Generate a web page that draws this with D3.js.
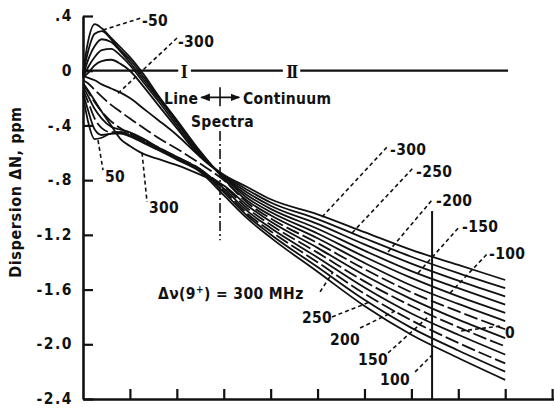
<!DOCTYPE html>
<html><head><meta charset="utf-8">
<script src="https://cdn.jsdelivr.net/npm/d3@7"></script>
<style>
body{margin:0;background:#fff}
svg text{font-family:"Liberation Sans Narrow","DejaVu Sans Condensed","Arial Narrow",sans-serif;font-weight:bold;fill:#111}
</style></head><body>
<svg id="c" width="554" height="408"></svg>
<script>
// ---- data (x in axis tick units, y in ppm) ----
const xSamples = [0, 0.1, 0.25, 0.4, 0.6, 0.8, 1.0, 1.3, 1.6, 2.0, 2.5, 3.0, 3.5, 4, 5, 6, 7, 8, 9];
const deltaNu = [-300, -250, -200, -150, -100, -50, 0, 300, 250, 200, 150, 100, 50];
const curveM300 = [-0.04,-0.05,-0.07,-0.10,-0.13,-0.16,-0.20,-0.28,-0.36,-0.47,-0.63,-0.76,-0.85,-0.94,-1.05,-1.18,-1.31,-1.42,-1.53];
const curveM250 = [-0.05,-0.02,0.04,0.07,0.08,0.05,0.00,-0.12,-0.25,-0.42,-0.63,-0.765,-0.87,-0.963,-1.085,-1.225,-1.36,-1.48,-1.59];
const curveM200 = [-0.05,0.02,0.10,0.15,0.16,0.11,0.04,-0.09,-0.22,-0.40,-0.62,-0.77,-0.89,-0.987,-1.12,-1.27,-1.41,-1.535,-1.65];
const curveM150 = [-0.04,0.07,0.18,0.23,0.21,0.14,0.06,-0.07,-0.20,-0.38,-0.61,-0.775,-0.91,-1.01,-1.155,-1.315,-1.465,-1.59,-1.71];
const curveM100 = [-0.03,0.13,0.27,0.29,0.23,0.15,0.08,-0.05,-0.19,-0.37,-0.60,-0.78,-0.93,-1.033,-1.19,-1.36,-1.515,-1.65,-1.77];
const curveM50  = [-0.02,0.20,0.34,0.31,0.24,0.17,0.10,-0.03,-0.18,-0.36,-0.59,-0.79,-0.95,-1.057,-1.225,-1.405,-1.57,-1.705,-1.83];
const curve0    = [-0.07,-0.09,-0.14,-0.19,-0.25,-0.30,-0.35,-0.42,-0.49,-0.57,-0.68,-0.80,-0.965,-1.08,-1.26,-1.45,-1.62,-1.76,-1.89];
const curveP300 = [-0.09,-0.14,-0.22,-0.30,-0.40,-0.50,-0.55,-0.61,-0.645,-0.69,-0.76,-0.84,-0.985,-1.103,-1.295,-1.495,-1.67,-1.82,-1.955];
const curveP250 = [-0.10,-0.15,-0.23,-0.30,-0.37,-0.42,-0.46,-0.51,-0.57,-0.64,-0.73,-0.845,-1.005,-1.127,-1.33,-1.54,-1.72,-1.875,-2.015];
const curveP200 = [-0.12,-0.18,-0.28,-0.35,-0.41,-0.43,-0.45,-0.50,-0.56,-0.63,-0.72,-0.86,-1.025,-1.15,-1.365,-1.585,-1.775,-1.93,-2.075];
const curveP150 = [-0.14,-0.22,-0.35,-0.42,-0.45,-0.45,-0.46,-0.51,-0.56,-0.63,-0.72,-0.875,-1.045,-1.173,-1.40,-1.63,-1.825,-1.99,-2.14];
const curveP100 = [-0.16,-0.28,-0.43,-0.47,-0.46,-0.45,-0.47,-0.52,-0.57,-0.64,-0.73,-0.89,-1.06,-1.197,-1.435,-1.675,-1.88,-2.045,-2.20];
const curveP50  = [-0.18,-0.36,-0.50,-0.49,-0.46,-0.46,-0.48,-0.53,-0.58,-0.65,-0.74,-0.91,-1.08,-1.22,-1.47,-1.72,-1.93,-2.10,-2.26];
const dashedCurves = [0, 250, 150];
const yTickValues = [0.4, 0, -0.4, -0.8, -1.2, -1.6, -2.0, -2.4];
const yTickLabels = [".4", "0", "-.4", "-.8", "-1.2", "-1.6", "-2.0", "-2.4"];
const xTickValues = [1, 2, 3, 4, 5, 6, 7, 8, 9, 10];

const curves = [curveM300, curveM250, curveM200, curveM150, curveM100, curveM50, curve0,
                curveP300, curveP250, curveP200, curveP150, curveP100, curveP50];

// ---- annotations (data units) ----
const leaders = [
  [[0.426,0.298],[1.237,0.385]],
  [[0.746,-0.166],[2.004,0.239]],
  [[0.320,-0.507],[0.426,-0.726]],
  [[1.258,-0.600],[1.365,-0.960]],
  [[5.096,-1.069],[6.503,-0.550]],
  [[5.736,-1.186],[7.036,-0.711]],
  [[6.503,-1.325],[7.441,-0.945]],
  [[7.143,-1.479],[8.038,-1.135]],
  [[7.825,-1.625],[8.635,-1.332]],
  [[8.060,-1.903],[8.913,-1.866]],
  [[5.053,-1.617],[5.330,-1.471]],
  [[5.309,-1.800],[6.119,-1.690]],
  [[5.906,-1.881],[6.695,-1.749]],
  [[6.503,-2.063],[7.335,-1.807]],
  [[7.079,-2.202],[7.441,-2.078]]
];
const labels = [
  ["-50",1.258,0.327],["-300",2.026,0.173],["50",0.469,-0.814],["300",1.407,-1.040],
  ["-300",6.546,-0.616],["-250",7.100,-0.777],["-200",7.527,-0.989],["-150",8.081,-1.179],
  ["-100",8.657,-1.376],["0",8.998,-1.954],["250",4.670,-1.844],["200",5.267,-2.005],
  ["150",5.864,-2.151],["100",6.333,-2.297],
  ["Line",1.727,-0.243],["Continuum",3.412,-0.243],["Spectra",2.303,-0.412]
];

const svg = d3.select("#c");
const x = d3.scaleLinear().domain([0, 10.04]).range([83, 554]);
const y = d3.scaleLinear().domain([-2.4, 0.4]).range([399, 16]);

// axes
const gy = svg.append("g").attr("transform", `translate(${x(0)},0)`)
  .call(d3.axisLeft(y).tickValues(yTickValues).tickFormat((d,i)=>yTickLabels[i])
        .tickSizeInner(-10).tickSizeOuter(0).tickPadding(10));
gy.select(".domain").attr("stroke","#111").attr("stroke-width",2.6);
gy.selectAll(".tick line").attr("stroke","#111").attr("stroke-width",2.2);
gy.selectAll(".tick text").style("font-size","15.5px").attr("dy","0.3em").style("letter-spacing","1.5px").attr("fill","#111");

const gx = svg.append("g").attr("transform", `translate(0,${y(-2.4)})`)
  .call(d3.axisBottom(x).tickValues(xTickValues).tickFormat("").tickSizeInner(-10).tickSizeOuter(0));
gx.select(".domain").attr("stroke","#111").attr("stroke-width",2.6);
gx.selectAll(".tick line").attr("stroke","#111").attr("stroke-width",2.2);

// zero reference line with I / II markers
const zeroSegs = [[0,2.03],[2.30,4.26],[4.63,9.06]];
svg.append("g").selectAll("line").data(zeroSegs).join("line")
  .attr("x1",d=>x(d[0])).attr("x2",d=>x(d[1])).attr("y1",y(0)).attr("y2",y(0))
  .attr("stroke","#111").attr("stroke-width",2.2);
svg.append("text").attr("x",x(2.16)).attr("y",y(0)+7).attr("text-anchor","middle")
  .style("font-family","'Liberation Serif',serif").style("font-size","18px").text("I");
svg.append("text").attr("x",x(4.44)).attr("y",y(0)+7).attr("text-anchor","middle")
  .style("font-family","'Liberation Serif',serif").style("font-size","18px").style("letter-spacing","-2px").text("II");

// curves
const line = d3.line().x((d,i)=>x(xSamples[i])).y(d=>y(d)).curve(d3.curveMonotoneX);
svg.append("g").selectAll("path").data(curves).join("path")
  .attr("d", d=>line(d)).attr("fill","none").attr("stroke","#111").attr("stroke-width",1.8)
  .attr("stroke-dasharray",(d,i)=>dashedCurves.includes(deltaNu[i]) ? "14,4" : null);

// verticals
svg.append("line").attr("x1",x(2.921)).attr("x2",x(2.921)).attr("y1",y(-0.12)).attr("y2",y(-0.26))
  .attr("stroke","#111").attr("stroke-width",1.6);
svg.append("line").attr("x1",x(2.921)).attr("x2",x(2.921)).attr("y1",y(-0.44)).attr("y2",y(-1.24))
  .attr("stroke","#111").attr("stroke-width",1.6).attr("stroke-dasharray","10,3,2,3");
svg.append("line").attr("x1",x(7.441)).attr("x2",x(7.441)).attr("y1",y(-1.026)).attr("y2",y(-2.4))
  .attr("stroke","#111").attr("stroke-width",2);

// arrow Line <-> Continuum
const defs = svg.append("defs");
defs.append("marker").attr("id","ah").attr("viewBox","0 0 10 10").attr("refX",9).attr("refY",5)
  .attr("markerWidth",6).attr("markerHeight",6).attr("orient","auto-start-reverse")
  .append("path").attr("d","M0,1L10,5L0,9z").attr("fill","#111");
svg.append("line").attr("x1",x(2.52)).attr("x2",x(3.33)).attr("y1",y(-0.195)).attr("y2",y(-0.195))
  .attr("stroke","#111").attr("stroke-width",1.6)
  .attr("marker-start","url(#ah)").attr("marker-end","url(#ah)");

// leaders
svg.append("g").selectAll("line").data(leaders).join("line")
  .attr("x1",d=>x(d[0][0])).attr("y1",d=>y(d[0][1])).attr("x2",d=>x(d[1][0])).attr("y2",d=>y(d[1][1]))
  .attr("stroke","#111").attr("stroke-width",1.6).attr("stroke-dasharray","4,3");

// labels
svg.append("g").selectAll("text").data(labels).join("text")
  .attr("x",d=>x(d[1])).attr("y",d=>y(d[2])).style("font-size","15.5px").style("letter-spacing","0.3px")
  .text(d=>d[0]);

const t = svg.append("text").attr("x",x(1.599)).attr("y",y(-1.669)).style("font-size","15.5px").style("letter-spacing","0.4px");
t.append("tspan").text("\u0394\u03BD(9");
t.append("tspan").attr("dy",-6).style("font-size","10px").text("+");
t.append("tspan").attr("dy",6).text(") = 300 MHz");

// y title
svg.append("text").attr("transform",`translate(21,${y(-0.887)}) rotate(-90)`).attr("text-anchor","middle")
  .style("font-size","16px").style("letter-spacing","0.6px").text("Dispersion   \u0394N, ppm");
</script>
</body></html>
